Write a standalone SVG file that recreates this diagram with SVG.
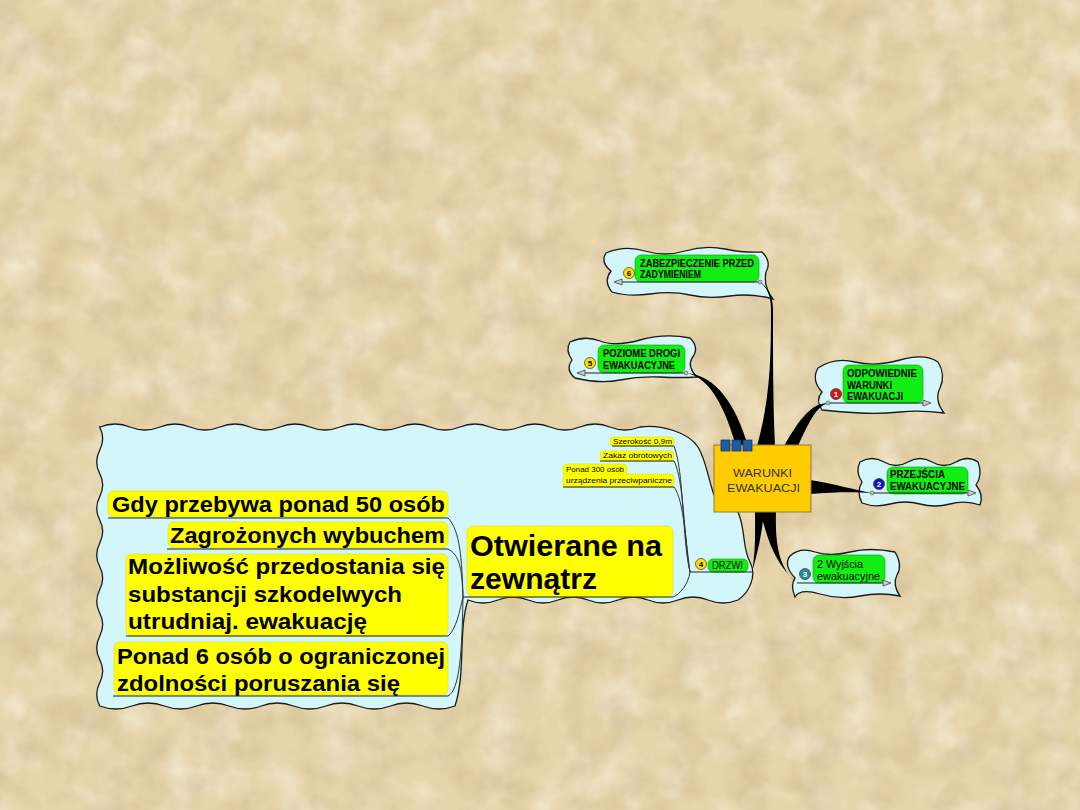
<svg xmlns="http://www.w3.org/2000/svg" width="1080" height="810" viewBox="0 0 1080 810">
<style>
text{font-family:"Liberation Sans",Arial,sans-serif;fill:#000}
.bub{fill:#D3F6FA;stroke:#1a1a1a;stroke-width:1.3}
.grn{fill:#11EE11;stroke:#0a9a0a;stroke-width:0.6}
.yel{fill:#FFFF00;stroke:#d8d800;stroke-width:0.5}
.ul{stroke:#222;stroke-width:1;fill:none}
.thin{stroke:#333;stroke-width:1;fill:none}
.taper{fill:#000}
.g{font-weight:bold;font-size:10px}
.w{font-size:10.5px}
.s{font-size:7.5px}
.L{font-weight:bold;font-size:22px}
.XL{font-weight:bold;font-size:29px}
.ic{stroke:#333;stroke-width:0.7}
.icn{font-weight:bold;font-size:8px;text-anchor:middle}
.arr{fill:#ccc;stroke:#444;stroke-width:0.8}
.dot{fill:#bbb;stroke:#555;stroke-width:0.6}
.tab{fill:#1E5BA8;stroke:#0d2d5a;stroke-width:0.7}
</style>
<defs>
<filter id="tex" x="0" y="0" width="100%" height="100%">
<feTurbulence type="fractalNoise" baseFrequency="0.03" numOctaves="4" seed="11"/>
<feColorMatrix type="matrix" values="0 0 0 0 0.58  0 0 0 0 0.45  0 0 0 0 0.26  1.6 0 0 0 -0.6"/>
</filter>
<filter id="tex2" x="0" y="0" width="100%" height="100%">
<feTurbulence type="fractalNoise" baseFrequency="0.025" numOctaves="3" seed="3"/>
<feColorMatrix type="matrix" values="0 0 0 0 1  0 0 0 0 0.97  0 0 0 0 0.88  1.6 0 0 0 -0.7"/>
</filter>
</defs>
<rect width="1080" height="810" fill="#E6D4AA"/>
<rect width="1080" height="810" filter="url(#tex2)" opacity="0.7"/>
<rect width="1080" height="810" filter="url(#tex)" opacity="0.6"/>

<g id="bubble-drzwi">
<path class="bub" d="M100,427 q15,-6 30,0 t30,0 t30,0 t30,0 t30,0 t30,0 t30,0 t30,0 t30,0 t30,0 t30,0 t30,0 t30,0 t30,0 t30,0 t30,0 t30,0 t30,0 C660,424 688,432 698,447 C706,460 708,478 714,495 L738,512 C746,530 742,548 750,562 C757,575 750,592 738,600 q-15,6 -30,0 t-30,0 t-30,0 t-30,0 t-30,0 t-30,0 t-30,0 t-30,0 t-30,0 C458,630 466,672 455,706 q-16,6 -32.3,0 t-32.3,0 t-32.3,0 t-32.3,0 t-32.3,0 t-32.3,0 t-32.3,0 t-32.3,0 t-32.3,0 t-32.3,0 t-32.3,0 q-6,-11.6 0,-23.25 t0,-23.25 t0,-23.25 t0,-23.25 t0,-23.25 t0,-23.25 t0,-23.25 t0,-23.25 t0,-23.25 t0,-23.25 t0,-23.25 t0,-23.25 Z"/>
</g>
<g id="bubble-6">
<path class="bub" d="M606,253 Q625,245 645,251 T685,251 T725,249 T762,252 Q772,262 766,272 Q763,286 773,299 Q752,293 730,296 T690,295 T650,294 T612,292 Q603,281 611,271 Q600,262 606,253 Z"/>
</g>
<g id="bubble-5">
<path class="bub" d="M570,342 Q585,335 600,341 T640,340 T690,338 Q700,348 692,358 Q687,367 697,377 Q680,378 660,377 T620,380 T575,378 Q565,370 572,360 Q565,350 570,342 Z"/>
</g>
<g id="bubble-1">
<path class="bub" d="M818,368 Q835,357 855,362 T900,360 T938,362 Q946,375 940,388 Q934,400 944,413 Q920,410 900,412 T860,413 T822,410 Q815,400 822,392 Q811,380 818,368 Z"/>
</g>
<g id="bubble-2">
<path class="bub" d="M860,462 Q872,455 884,462 T908,462 T932,462 T956,462 T978,462 Q983,475 976,485 Q984,495 980,505 Q965,500 950,504 T920,504 T890,504 T862,503 Q856,492 862,482 Q855,472 860,462 Z"/>
</g>
<g id="bubble-3">
<path class="bub" d="M790,556 Q800,547 815,552 T850,552 T895,552 Q903,565 897,575 Q892,585 900,596 Q880,592 860,596 T820,594 T795,597 Q790,585 795,578 Q783,565 790,556 Z"/>
</g>

<g id="connectors">
<path class="taper" d="M760,282 C767,288 771,295 771,310 C771,360 770,400 757,446 L775,446 C773,400 773,360 773,310 C773,296 768,287 760,282 Z"/>
<path class="taper" d="M686,373 C705,376 722,397 736,446 L748,446 C736,405 716,375 686,373 Z"/>
<path class="taper" d="M828,403 C812,403 800,418 784,446 L798,446 C808,425 815,407 828,403 Z"/>
<path class="taper" d="M810,480 C835,484 855,490 872,493 C855,492 835,492 810,494 Z"/>
<path class="taper" d="M760,511 C768,540 774,562 797,583 C779,568 775,545 776,511 Z"/>
<path class="taper" d="M752,572 C756,550 755,530 755,511 L764,511 C762,535 757,555 752,572 Z"/>
<path class="thin" d="M690,572 C682,540 684,470 674,446"/>
<path class="thin" d="M690,572 C684,540 684,480 674,461"/>
<path class="thin" d="M690,572 C686,545 684,500 674,487"/>
<path class="thin" d="M690,572 C688,585 680,594 673,597"/>
<path class="thin" d="M463,597 C462,560 460,530 448,518"/>
<path class="thin" d="M463,597 C462,570 460,555 448,549"/>
<path class="thin" d="M463,597 C460,610 456,630 448,636"/>
<path class="thin" d="M463,597 C462,650 460,690 448,696"/>
</g>

<g id="node-center">
<rect x="714" y="445" width="97" height="67" fill="#FFCC00" stroke="#8a7a50" stroke-width="1"/>
<rect class="tab" x="721" y="440" width="9" height="11"/>
<rect class="tab" x="732" y="440" width="9" height="11"/>
<rect class="tab" x="743" y="440" width="9" height="11"/>
<text x="762.5" y="477" font-size="11" text-anchor="middle" textLength="59" lengthAdjust="spacingAndGlyphs" style="fill:#333">WARUNKI</text>
<text x="763.5" y="492" font-size="11" text-anchor="middle" textLength="73" lengthAdjust="spacingAndGlyphs" style="fill:#333">EWAKUACJI</text>
</g>

<g id="node-6">
<rect class="grn" x="635" y="255" width="124" height="27" rx="6"/>
<text class="g" x="640" y="267" textLength="114" lengthAdjust="spacingAndGlyphs">ZABEZPIECZENIE PRZED</text>
<text class="g" x="640" y="278" textLength="61" lengthAdjust="spacingAndGlyphs">ZADYMIENIEM</text>
<line class="ul" x1="615" y1="282" x2="760" y2="282"/>
<polygon class="arr" points="614,282 622,279 622,285"/>
<circle class="dot" cx="760" cy="282" r="2"/>
<circle class="ic" cx="629" cy="273" r="5.5" fill="#FFE000"/>
<text class="icn" x="629" y="276">6</text>
</g>
<g id="node-5">
<rect class="grn" x="598" y="345" width="87" height="28" rx="6"/>
<text class="g" x="603" y="357" textLength="77" lengthAdjust="spacingAndGlyphs">POZIOME DROGI</text>
<text class="g" x="603" y="369" textLength="72" lengthAdjust="spacingAndGlyphs">EWAKUACYJNE</text>
<line class="ul" x1="578" y1="373" x2="686" y2="373"/>
<polygon class="arr" points="577,373 585,370 585,376"/>
<circle class="dot" cx="686" cy="373" r="2"/>
<circle class="ic" cx="590" cy="363" r="5.5" fill="#FFE000"/>
<text class="icn" x="590" y="366">5</text>
</g>
<g id="node-1">
<rect class="grn" x="843" y="365" width="80" height="38" rx="6"/>
<text class="g" x="847" y="377" textLength="70" lengthAdjust="spacingAndGlyphs">ODPOWIEDNIE</text>
<text class="g" x="847" y="389" textLength="45" lengthAdjust="spacingAndGlyphs">WARUNKI</text>
<text class="g" x="847" y="400" textLength="56" lengthAdjust="spacingAndGlyphs">EWAKUACJI</text>
<line class="ul" x1="828" y1="403" x2="928" y2="403"/>
<polygon class="arr" points="931,403 923,400 923,406"/>
<circle class="dot" cx="828" cy="403" r="2"/>
<circle class="ic" cx="836" cy="394" r="5.5" fill="#E01010"/>
<text class="icn" x="836" y="397" style="fill:#fff">1</text>
</g>
<g id="node-2">
<rect class="grn" x="887" y="467" width="81" height="27" rx="6"/>
<text class="g" x="890" y="478" textLength="55" lengthAdjust="spacingAndGlyphs">PRZEJŚCIA</text>
<text class="g" x="890" y="490" textLength="75" lengthAdjust="spacingAndGlyphs">EWAKUACYJNE</text>
<line class="ul" x1="872" y1="493" x2="973" y2="493"/>
<polygon class="arr" points="976,493 968,490 968,496"/>
<circle class="dot" cx="872" cy="493" r="2"/>
<circle class="ic" cx="879" cy="484" r="5.5" fill="#1010C8"/>
<text class="icn" x="879" y="487" style="fill:#fff">2</text>
</g>
<g id="node-3">
<rect class="grn" x="813" y="555" width="72" height="28" rx="6"/>
<text class="w" x="817" y="568" textLength="46" lengthAdjust="spacingAndGlyphs">2 Wyjścia</text>
<text class="w" x="817" y="580" textLength="63" lengthAdjust="spacingAndGlyphs">ewakuacyjne</text>
<line class="ul" x1="797" y1="583" x2="888" y2="583"/>
<polygon class="arr" points="891,583 883,580 883,586"/>
<circle class="ic" cx="805" cy="574" r="5.5" fill="#2A8C8C"/>
<text class="icn" x="805" y="577" style="fill:#fff">3</text>
</g>
<g id="node-4">
<rect class="grn" x="708" y="559" width="40" height="13" rx="5"/>
<text class="w" x="712" y="569" textLength="31" lengthAdjust="spacingAndGlyphs">DRZWI</text>
<line class="ul" x1="690" y1="572" x2="752" y2="572"/>
<circle class="ic" cx="701" cy="564" r="5.5" fill="#FFE000"/>
<text class="icn" x="701" y="567">4</text>
</g>
<g id="node-szerokosc">
<rect class="yel" x="610" y="437" width="64" height="9" rx="4"/>
<text class="s" x="613" y="444" textLength="59" lengthAdjust="spacingAndGlyphs">Szerokość 0,9m</text>
<line class="ul" x1="612" y1="446" x2="674" y2="446"/>
</g>
<g id="node-zakaz">
<rect class="yel" x="600" y="451" width="74" height="10" rx="4"/>
<text class="s" x="603" y="458" textLength="69" lengthAdjust="spacingAndGlyphs">Zakaz obrotowych</text>
<line class="ul" x1="600" y1="461" x2="674" y2="461"/>
</g>
<g id="node-ponad300">
<rect class="yel" x="563" y="464" width="64" height="12" rx="4"/>
<rect class="yel" x="563" y="474" width="111" height="13" rx="4"/>
<text class="s" x="566" y="472" textLength="58" lengthAdjust="spacingAndGlyphs">Ponad 300 osób</text>
<text class="s" x="566" y="483" textLength="106" lengthAdjust="spacingAndGlyphs">urządzenia przeciwpaniczne</text>
<line class="ul" x1="563" y1="487" x2="674" y2="487"/>
</g>
<g id="node-otwierane">
<rect class="yel" x="467" y="526" width="206" height="71" rx="6"/>
<text class="XL" x="470" y="556" textLength="192" lengthAdjust="spacingAndGlyphs">Otwierane na</text>
<text class="XL" x="470" y="589" textLength="127" lengthAdjust="spacingAndGlyphs">zewnątrz</text>
<line class="ul" x1="463" y1="597" x2="673" y2="597"/>
</g>
<g id="node-gdy">
<rect class="yel" x="108" y="491" width="340" height="26" rx="6"/>
<text class="L" x="112" y="512" textLength="333" lengthAdjust="spacingAndGlyphs">Gdy przebywa ponad 50 osób</text>
<line class="ul" x1="108" y1="518" x2="448" y2="518"/>
</g>
<g id="node-zagrozonych">
<rect class="yel" x="168" y="522" width="280" height="26" rx="6"/>
<text class="L" x="170" y="543" textLength="275" lengthAdjust="spacingAndGlyphs">Zagrożonych wybuchem</text>
<line class="ul" x1="167" y1="549" x2="448" y2="549"/>
</g>
<g id="node-mozliwosc">
<rect class="yel" x="126" y="554" width="322" height="82" rx="6"/>
<text class="L" x="128" y="574" textLength="317" lengthAdjust="spacingAndGlyphs">Możliwość przedostania się</text>
<text class="L" x="128" y="602" textLength="274" lengthAdjust="spacingAndGlyphs">substancji szkodelwych</text>
<text class="L" x="128" y="629" textLength="239" lengthAdjust="spacingAndGlyphs">utrudniaj. ewakuację</text>
<line class="ul" x1="126" y1="636" x2="448" y2="636"/>
</g>
<g id="node-ponad6">
<rect class="yel" x="114" y="642" width="334" height="53" rx="6"/>
<text class="L" x="117" y="664" textLength="328" lengthAdjust="spacingAndGlyphs">Ponad 6 osób o ograniczonej</text>
<text class="L" x="117" y="691" textLength="283" lengthAdjust="spacingAndGlyphs">zdolności poruszania się</text>
<line class="ul" x1="113" y1="696" x2="448" y2="696"/>
</g>
</svg>
